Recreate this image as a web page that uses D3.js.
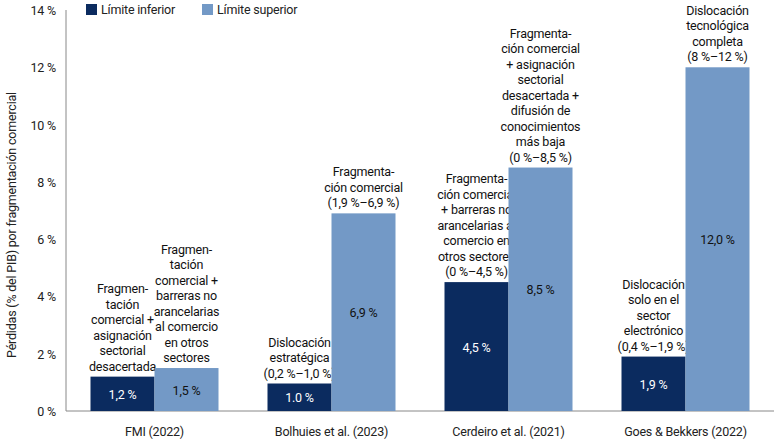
<!DOCTYPE html>
<html><head><meta charset="utf-8">
<script src="https://cdn.jsdelivr.net/npm/d3@7"></script>
<style>body{margin:0;background:#fff}text{font-family:Roboto,"Liberation Sans",sans-serif;letter-spacing:-0.2px}</style>
</head><body><svg id="c" width="780" height="440"></svg>
<script>
const categories = ['FMI (2022)', 'Bolhuies et al. (2023)', 'Cerdeiro et al. (2021)', 'Goes & Bekkers (2022)']
const lower = [1.2, 0.96, 4.5, 1.9]
const upper = [1.5, 6.9, 8.5, 12.0]
const lowerLabels = ['1,2 %', '1.0 %', '4,5 %', '1,9 %']
const upperLabels = ['1,5 %', '6,9 %', '8,5 %', '12,0 %']
const lowerNotes = [
  ['Fragmen-', 'tación', 'comercial +', 'asignación', 'sectorial', 'desacertada'],
  ['Dislocación', 'estratégica', '(0,2 %–1,0 %)'],
  ['Fragmenta-', 'ción comercial', '+ barreras no', 'arancelarias al', 'comercio en', 'otros sectores', '(0 %–4,5 %)'],
  ['Dislocación', 'solo en el', 'sector', 'electrónico', '(0,4 %–1,9 %)']
]
const upperNotes = [
  ['Fragmen-', 'tación', 'comercial +', 'barreras no', 'arancelarias', 'al comercio', 'en otros', 'sectores'],
  ['Fragmenta-', 'ción comercial', '(1,9 %–6,9 %)'],
  ['Fragmenta-', 'ción comercial', '+ asignación', 'sectorial', 'desacertada +', 'difusión de', 'conocimientos', 'más baja', '(0 %–8,5 %)'],
  ['Dislocación', 'tecnológica', 'completa', '(8 %–12 %)']
]
const yTicks = [0, 2, 4, 6, 8, 10, 12, 14]
const colors = { lower: '#0b2b5f', upper: '#7399c6' }

const svg = d3.select('#c')
const x = d3.scaleBand().domain(categories).range([66, 774])
const y = d3.scaleLinear().domain([0, 14]).range([411, 10])
const bw = 64
const fs = 12.5

// axes
svg.append('line').attr('x1', 66).attr('x2', 66).attr('y1', 10).attr('y2', 411).attr('stroke', '#888')
svg.append('line').attr('x1', 66).attr('x2', 774).attr('y1', 411).attr('y2', 411).attr('stroke', '#888')
svg.selectAll('.yt').data(yTicks).enter().append('text')
  .attr('x', 56).attr('y', d => y(d) + 5).attr('text-anchor', 'end')
  .attr('font-size', fs).attr('fill', '#222').text(d => d + ' %')
svg.append('text').attr('transform', 'translate(16,225) rotate(-90)')
  .attr('text-anchor', 'middle').attr('font-size', fs).attr('fill', '#222')
  .text('Pérdidas (% del PIB) por fragmentación comercial')

// legend
const legend = [['Límite inferior', colors.lower, 86], ['Límite superior', colors.upper, 202]]
legend.forEach(([t, c, lx]) => {
  svg.append('rect').attr('x', lx).attr('y', 4).attr('width', 11).attr('height', 11).attr('fill', c)
  svg.append('text').attr('x', lx + 15).attr('y', 14).attr('font-size', fs).attr('fill', '#222').text(t)
})

const cx = d => x(d) + x.bandwidth() / 2

function drawBars(vals, labels, notes, color, offset, labColor) {
  categories.forEach((cat, i) => {
    const bx = cx(cat) + offset
    svg.append('rect').attr('x', bx).attr('y', y(vals[i])).attr('width', bw)
      .attr('height', y(0) - y(vals[i])).attr('fill', color)
    svg.append('text').attr('x', bx + bw / 2).attr('y', (y(vals[i]) + y(0)) / 2 + 5)
      .attr('text-anchor', 'middle').attr('font-size', fs).attr('fill', labColor).text(labels[i])
    const n = notes[i]
    const t = svg.append('text').attr('text-anchor', 'middle').attr('font-size', fs).attr('fill', '#111')
    n.forEach((line, j) => {
      t.append('tspan').attr('x', bx + bw / 2).attr('y', y(vals[i]) - 6 - (n.length - 1 - j) * 15.5).text(line)
    })
  })
}
drawBars(lower, lowerLabels, lowerNotes, colors.lower, -bw, '#fff')
drawBars(upper, upperLabels, upperNotes, colors.upper, 0, '#111')

svg.selectAll('.xl').data(categories).enter().append('text')
  .attr('x', cx).attr('y', 436).attr('text-anchor', 'middle')
  .attr('font-size', fs).attr('fill', '#222').text(d => d)
</script></body></html>
